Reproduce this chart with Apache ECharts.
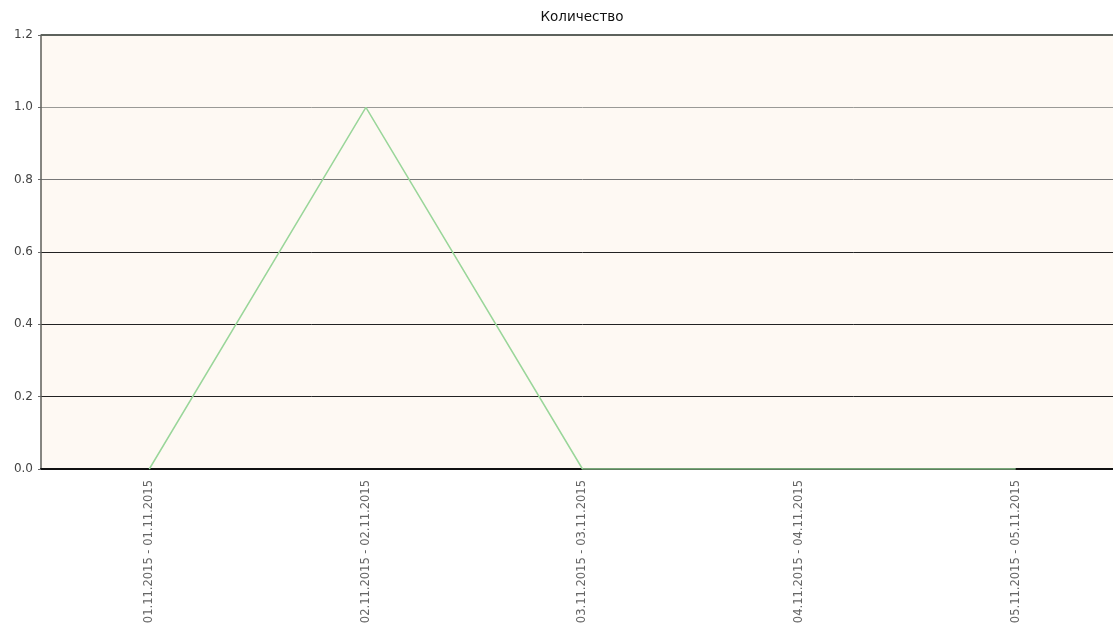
<!DOCTYPE html>
<html>
<head>
<meta charset="utf-8">
<script src="https://cdn.jsdelivr.net/npm/echarts@6/dist/echarts.min.js"></script>
<style>
html,body{margin:0;padding:0;background:#fff;overflow:hidden;}
#chart{width:1124px;height:628px;}
</style>
</head>
<body>
<div id="chart"></div>
<script>
const title = 'Количество';
const categories = ['01.11.2015 - 01.11.2015','02.11.2015 - 02.11.2015','03.11.2015 - 03.11.2015','04.11.2015 - 04.11.2015','05.11.2015 - 05.11.2015'];
const values = [0, 1, 0, 0, 0];
const yMin = 0, yMax = 1.2, yStep = 0.2;

const chart = echarts.init(document.getElementById('chart'), null, {renderer:'canvas'});
chart.setOption({
  animation: false,
  backgroundColor: '#ffffff',
  title: {
    text: title, left: 577, top: 5, textAlign: 'center',
    textStyle: {fontFamily: 'DejaVu Sans', fontSize: 13.5, fontWeight: 'normal', color: '#111'}
  },
  grid: {
    left: 41, top: 35, bottom: 159, right: 0,
    show: true, backgroundColor: '#fef9f3', borderWidth: 0
  },
  xAxis: {
    type: 'category', data: categories, boundaryGap: true,
    axisLine: {show: true, lineStyle: {color: '#111', width: 2}},
    axisTick: {show: false},
    axisLabel: {rotate: 90, interval: 0, margin: 11, fontFamily: 'DejaVu Sans', fontSize: 11.5, color: '#666'},
    splitLine: {show: false}
  },
  yAxis: {
    type: 'value', min: yMin, max: yMax, interval: yStep,
    axisLine: {show: true, lineStyle: {color: '#5e5e58', width: 1.5}},
    axisTick: {show: true, length: 3, lineStyle: {color: '#666'}},
    axisLabel: {margin: 8, fontFamily: 'DejaVu Sans', fontSize: 12, color: '#444',
      formatter: v => v.toFixed(1)},
    splitLine: {show: true, showMinLine: true, showMaxLine: true,
      lineStyle: {color: ['#111', '#222', '#222', '#222', '#777', '#9a9a96', '#5d625c'], width: [1]}}
  },
  series: [{
    type: 'line', data: values, showSymbol: false, symbol: 'none',
    lineStyle: {color: '#9ad69a', width: 1.5}
  }, {
    type: 'line', data: [], markLine: {silent: true, symbol: 'none', label: {show: false},
      lineStyle: {color: '#5d625c', width: 2, type: 'solid'}, data: [{yAxis: yMax}]}
  }]
});
</script>
</body>
</html>
